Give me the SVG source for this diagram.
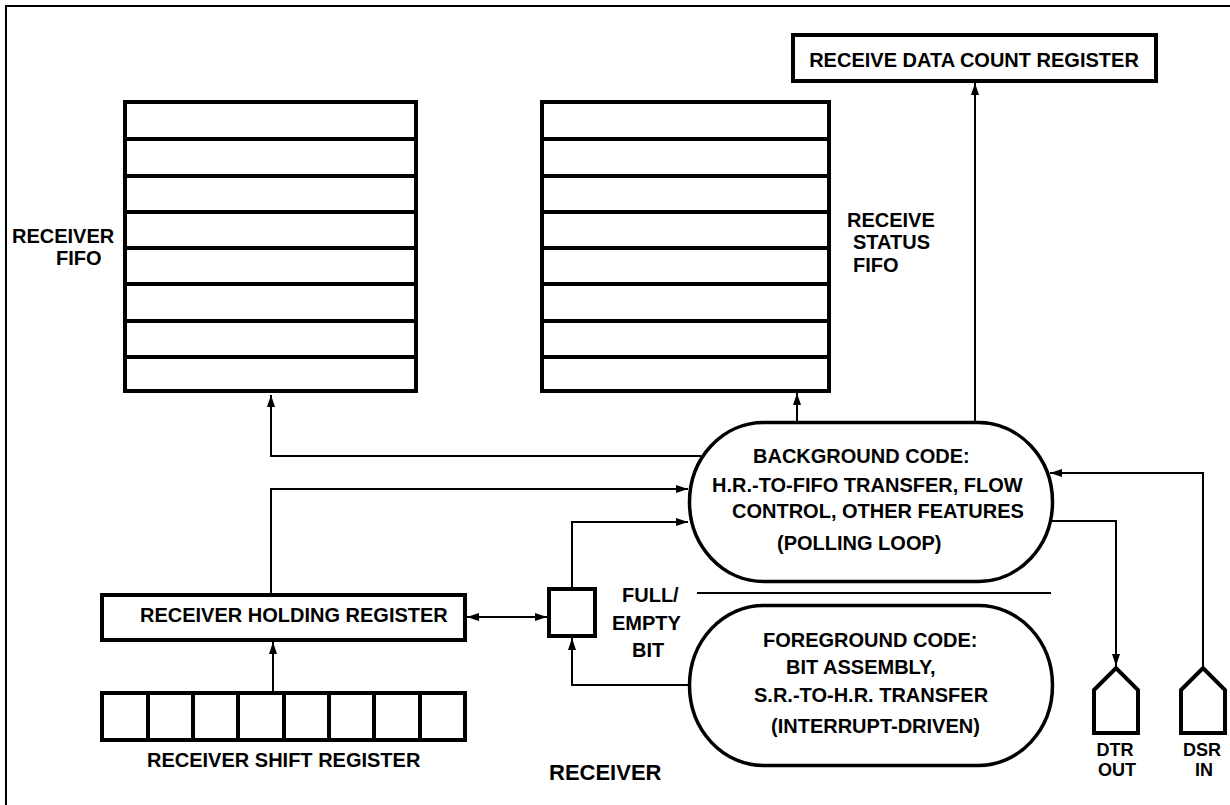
<svg xmlns="http://www.w3.org/2000/svg" width="1230" height="805" viewBox="0 0 1230 805">
<style>
text{font-family:"Liberation Sans",Arial,sans-serif;font-weight:bold;font-size:20px;fill:#000}
.small{font-size:18px}
.box{fill:#fff;stroke:#000;stroke-width:4}
.div{stroke:#000;stroke-width:4}
.oval{fill:#fff;stroke:#000;stroke-width:3.5}
.con{fill:none;stroke:#000;stroke-width:2}
.mid{text-anchor:middle}
</style>
<defs>
<marker id="ah" viewBox="0 0 12 8" refX="12" refY="4" markerWidth="12" markerHeight="8" markerUnits="userSpaceOnUse" orient="auto-start-reverse">
<path d="M0,0 L12,4 L0,8 z" fill="#000"/>
</marker>
</defs>
<rect width="1230" height="805" fill="#fff"/>
<path d="M6,805 V6 H1230" fill="none" stroke="#000" stroke-width="2"/>

<g id="receiver-fifo">
<rect class="box" x="125" y="102" width="291" height="289"/>
<path class="div" d="M125,139 H416 M125,176 H416 M125,212 H416 M125,248 H416 M125,284 H416 M125,321 H416 M125,357 H416"/>
<text x="12" y="243">RECEIVER</text>
<text x="56" y="265">FIFO</text>
</g>

<g id="status-fifo">
<rect class="box" x="542" y="102" width="287" height="289"/>
<path class="div" d="M542,139 H829 M542,176 H829 M542,212 H829 M542,248 H829 M542,284 H829 M542,321 H829 M542,357 H829"/>
<text x="847" y="227">RECEIVE</text>
<text x="853" y="249">STATUS</text>
<text x="853" y="272">FIFO</text>
</g>

<g id="rdcr">
<rect class="box" x="793" y="35" width="363" height="46"/>
<text class="mid" x="974" y="67">RECEIVE DATA COUNT REGISTER</text>
</g>

<g id="background">
<rect class="oval" x="689.5" y="422.5" width="363" height="159" rx="74" ry="79.5"/>
<text x="753" y="463">BACKGROUND CODE:</text>
<text x="712" y="492">H.R.-TO-FIFO TRANSFER, FLOW</text>
<text x="732" y="518">CONTROL, OTHER FEATURES</text>
<text x="777" y="550">(POLLING LOOP)</text>
</g>

<g id="foreground">
<rect class="oval" x="689.5" y="605.5" width="363" height="160" rx="74" ry="80"/>
<text x="763" y="647">FOREGROUND CODE:</text>
<text x="786" y="674">BIT ASSEMBLY,</text>
<text x="754" y="702">S.R.-TO-H.R. TRANSFER</text>
<text x="771" y="733">(INTERRUPT-DRIVEN)</text>
</g>

<g id="holding-register">
<rect class="box" x="102" y="595" width="363" height="45"/>
<text x="140" y="622">RECEIVER HOLDING REGISTER</text>
</g>

<g id="shift-register">
<rect class="box" x="102" y="693" width="363" height="47"/>
<path class="div" d="M148,693 V740 M193,693 V740 M238,693 V740 M284,693 V740 M329,693 V740 M374,693 V740 M420,693 V740"/>
<text x="147" y="767">RECEIVER SHIFT REGISTER</text>
</g>

<g id="full-empty-bit">
<rect class="box" x="549" y="589" width="46" height="47"/>
<text x="622" y="602">FULL/</text>
<text x="612" y="630">EMPTY</text>
<text x="632" y="657">BIT</text>
</g>

<g id="dtr-out">
<path d="M1094,690 L1116,668 L1138,690 V733 H1094 Z" fill="#fff" stroke="#000" stroke-width="4" stroke-linejoin="miter"/>
<text class="small mid" x="1115" y="756">DTR</text>
<text class="small mid" x="1117" y="776">OUT</text>
</g>

<g id="dsr-in">
<path d="M1181,690 L1203,668 L1225,690 V733 H1181 Z" fill="#fff" stroke="#000" stroke-width="4" stroke-linejoin="miter"/>
<text class="small mid" x="1202" y="756">DSR</text>
<text class="small mid" x="1204" y="776">IN</text>
</g>

<g id="receiver-label">
<text x="549" y="780" style="font-size:22px">RECEIVER</text>
</g>

<g id="connectors">
<path class="con" d="M701,456 H271 V395" marker-end="url(#ah)"/>
<path class="con" d="M271,593 V489 H688" marker-end="url(#ah)"/>
<path class="con" d="M572,587 V522 H688" marker-end="url(#ah)"/>
<path class="con" d="M688,685 H572 V638" marker-end="url(#ah)"/>
<path class="con" d="M467,617 H547" marker-start="url(#ah)" marker-end="url(#ah)"/>
<path class="con" d="M273,691 V642" marker-end="url(#ah)"/>
<path class="con" d="M797,421 V393" marker-end="url(#ah)"/>
<path class="con" d="M975,421 V83" marker-end="url(#ah)"/>
<path class="con" d="M1052,521 H1116 V666" marker-end="url(#ah)"/>
<path class="con" d="M1203,666 V473 H1050" marker-end="url(#ah)"/>
<path class="con" d="M697,593 H1051"/>
</g>
</svg>
